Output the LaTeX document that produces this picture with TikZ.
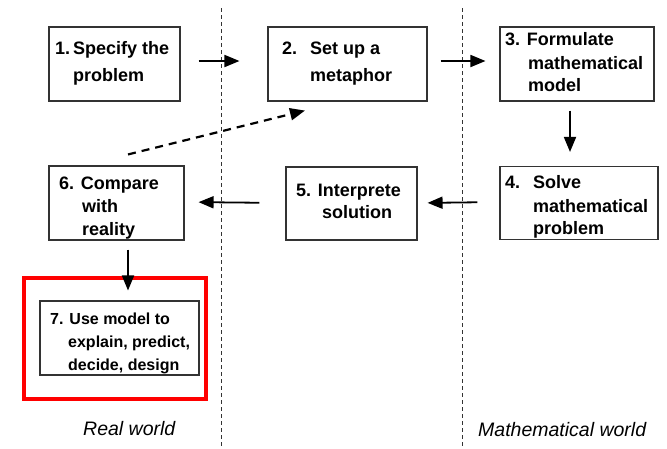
\documentclass[tikz,border=0pt]{standalone}
\usepackage{fontspec}
\setmainfont{Liberation Sans}
\usetikzlibrary{arrows.meta}
\begin{document}
\begin{tikzpicture}[x=1pt,y=-1pt,
  box/.style={draw=black!80,line width=1.1pt,minimum width=#1,inner sep=0pt,minimum height=74pt},
  txt/.style={anchor=base west,inner sep=0pt,font=\fontsize{18}{22}\selectfont\bfseries},
  txts/.style={anchor=base west,inner sep=0pt,font=\fontsize{16}{20}\selectfont\bfseries},
  lab/.style={anchor=base west,inner sep=0pt,font=\fontsize{19.5}{22}\selectfont\itshape},
  arr/.style={line width=1.8pt,-{Triangle[length=15pt,width=12pt]}},
  darr/.style={line width=2.2pt,dash pattern=on 8pt off 6pt,-{Triangle[length=15pt,width=12pt]}},
  sep/.style={line width=0.8pt,dash pattern=on 4pt off 3pt,draw=black!80}]
\useasboundingbox (0,0) rectangle (667,448);
% separators
\coordinate (s1t) at (221,8); \coordinate (s1b) at (221,448);
\coordinate (s2t) at (462,8); \coordinate (s2b) at (462,448);
\draw[sep] (s1t) -- (s1b);
\draw[sep] (s2t) -- (s2b);
% boxes
\node[box=131pt] (b1) at (114.5,64) {};
\node[box=159pt] (b2) at (347.5,64) {};
\node[box=154pt] (b3) at (577,64) {};
\node[box=158pt,minimum height=73pt] (b4) at (579,203) {};
\node[box=131pt,minimum height=73pt] (b5) at (351.5,203.5) {};
\node[box=135pt] (b6) at (116.5,203) {};
\node[box=159pt] (b7) at (119.5,338) {};
\node[draw=red,line width=3.5pt,minimum width=182pt,minimum height=121pt,inner sep=0pt] (red) at (115,338.5) {};
% texts
\node[txt] (t1a) at (55,54) {1.\,Specify the};
\node[txt] (t1b) at (73,81) {problem};
\node[txt] (t2a) at (282,54) {2.};
\node[txt] (t2b) at (310,54) {Set up a};
\node[txt] (t2c) at (310,81) {metaphor};
\node[txt] (t3a) at (505,45) {3. Formulate};
\node[txt] (t3b) at (528,69) {mathematical};
\node[txt] (t3c) at (528,91) {model};
\node[txt] (t4a) at (505,188) {4.};
\node[txt] (t4b) at (533,188) {Solve};
\node[txt] (t4c) at (533,212) {mathematical};
\node[txt] (t4d) at (533,234) {problem};
\node[txt] (t5a) at (296,196) {5. Interprete};
\node[txt] (t5b) at (322,218) {solution};
\node[txt] (t6a) at (59,189) {6. Compare};
\node[txt] (t6b) at (82,212) {with};
\node[txt] (t6c) at (82,235) {reality};
\node[txts] (t7a) at (50,324) {7. Use model to};
\node[txts] (t7b) at (68,347) {explain, predict,};
\node[txts] (t7c) at (68,370) {decide, design};
\node[lab] (rw) at (83,435) {Real world};
\node[lab] (mw) at (478,436) {Mathematical world};
% arrows
\draw[arr,shorten <=18pt,shorten >=28pt] ([yshift=3pt]b1.east) -- ([yshift=3pt]b2.west);
\draw[arr,shorten <=13pt,shorten >=14pt] ([yshift=3pt]b2.east) -- ([yshift=3pt]b3.west);
\draw[arr,shorten <=9pt,shorten >=14pt] ([xshift=-7pt]b3.south) -- ([xshift=-9pt]b4.north);
\draw[arr,shorten <=22pt,shorten >=10pt] ([yshift=1pt]b4.west) -- ([yshift=0.5pt]b5.east);
\draw[arr,shorten <=26pt,shorten >=14pt] ([yshift=0.5pt]b5.west) -- ([yshift=1pt]b6.east);
\draw[arr,shorten <=9pt,shorten >=10pt] ([xshift=11.5pt]b6.south) -- ([xshift=8.5pt]b7.north);
\draw[darr] ([xshift=11.5pt,yshift=11pt]b6.north) -- ([xshift=-42.5pt,yshift=-9pt]b2.south);
\end{tikzpicture}
\end{document}
